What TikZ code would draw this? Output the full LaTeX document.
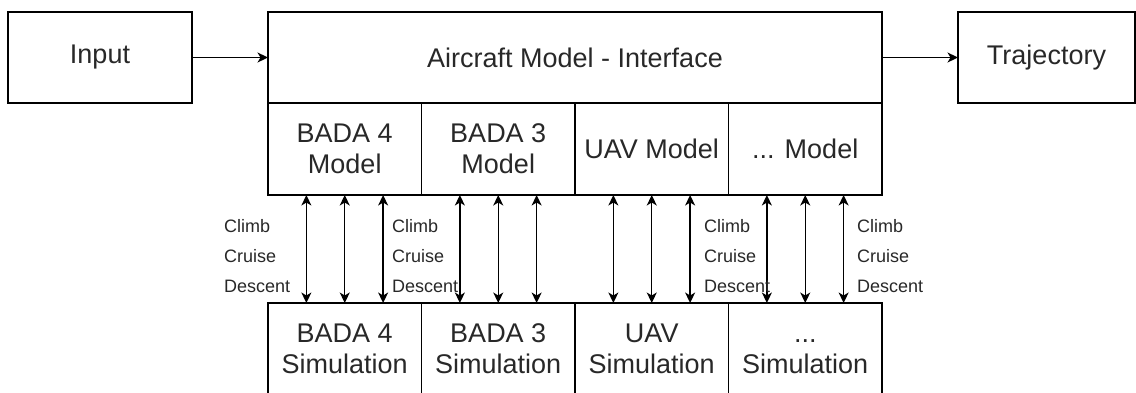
\documentclass[tikz,border=0pt]{standalone}
\usepackage{fontspec}
\setmainfont{Liberation Sans}
\usetikzlibrary{arrows.meta,calc}
\definecolor{txt}{RGB}{40,40,40}
\begin{document}
\begin{tikzpicture}[x=1pt,y=-1pt,
  box/.style={draw, line width=1.4pt, outer sep=0pt, inner sep=2pt, align=center, text=txt, font=\fontsize{27}{31}\selectfont},
  tip/.style={},
  conn/.style={line width=1.4pt, -{Stealth[length=10.5pt,width=10pt,inset=3pt]}},
  dconn/.style={line width=1.4pt, {Stealth[length=10.5pt,width=10pt,inset=3pt]}-{Stealth[length=10.5pt,width=10pt,inset=3pt]}},
  phase/.style={anchor=north west, inner sep=0pt, align=left, text=txt, font=\fontsize{18}{30}\selectfont}]
\useasboundingbox (0,0) rectangle (1136,392);
\clip (0,0) rectangle (1136,392);
% top row
\node[box, minimum width=184pt, minimum height=91pt] (input) at (100,57.5) {Input};
\node[box, minimum width=614pt, minimum height=91pt] (iface) at (575,57.5) {Aircraft Model - Interface};
\node[box, minimum width=177pt, minimum height=91pt] (traj) at (1046.5,57.5) {Trajectory};
% model row
\node[box, minimum width=153.5pt, minimum height=92pt] (m1) at (344.75,149) {BADA 4\\Model};
\node[box, minimum width=153.5pt, minimum height=92pt] (m2) at (498.25,149) {BADA 3\\Model};
\node[box, minimum width=153.5pt, minimum height=92pt] (m3) at (651.75,149) {UAV Model};
\node[box, minimum width=153.5pt, minimum height=92pt] (m4) at (805.25,149) {... Model};
% simulation row
\node[box, minimum width=153.5pt, minimum height=92pt] (s1) at (344.75,349) {BADA 4\\Simulation};
\node[box, minimum width=153.5pt, minimum height=92pt] (s2) at (498.25,349) {BADA 3\\Simulation};
\node[box, minimum width=153.5pt, minimum height=92pt] (s3) at (651.75,349) {UAV\\Simulation};
\node[box, minimum width=153.5pt, minimum height=92pt] (s4) at (805.25,349) {\vphantom{A}...\\Simulation};
% connectors
\draw[conn] (input) -- (iface);
\draw[conn] (iface) -- (traj);
\foreach \m/\s in {m1/s1,m2/s2,m3/s3,m4/s4}{
  \foreach \k in {1,2,3}{
    \draw[dconn] ($(\m.south west)!\k/4!(\m.south east)$) -- ($(\s.north west)!\k/4!(\s.north east)$);
  }
}
% phase labels
\node[phase] (p1) at (224,219) {Climb\\Cruise\\Descent};
\node[phase] (p2) at (392,219) {Climb\\Cruise\\Descent};
\node[phase] (p3) at (704,219) {Climb\\Cruise\\Descent};
\node[phase] (p4) at (857,219) {Climb\\Cruise\\Descent};
\end{tikzpicture}
\end{document}
